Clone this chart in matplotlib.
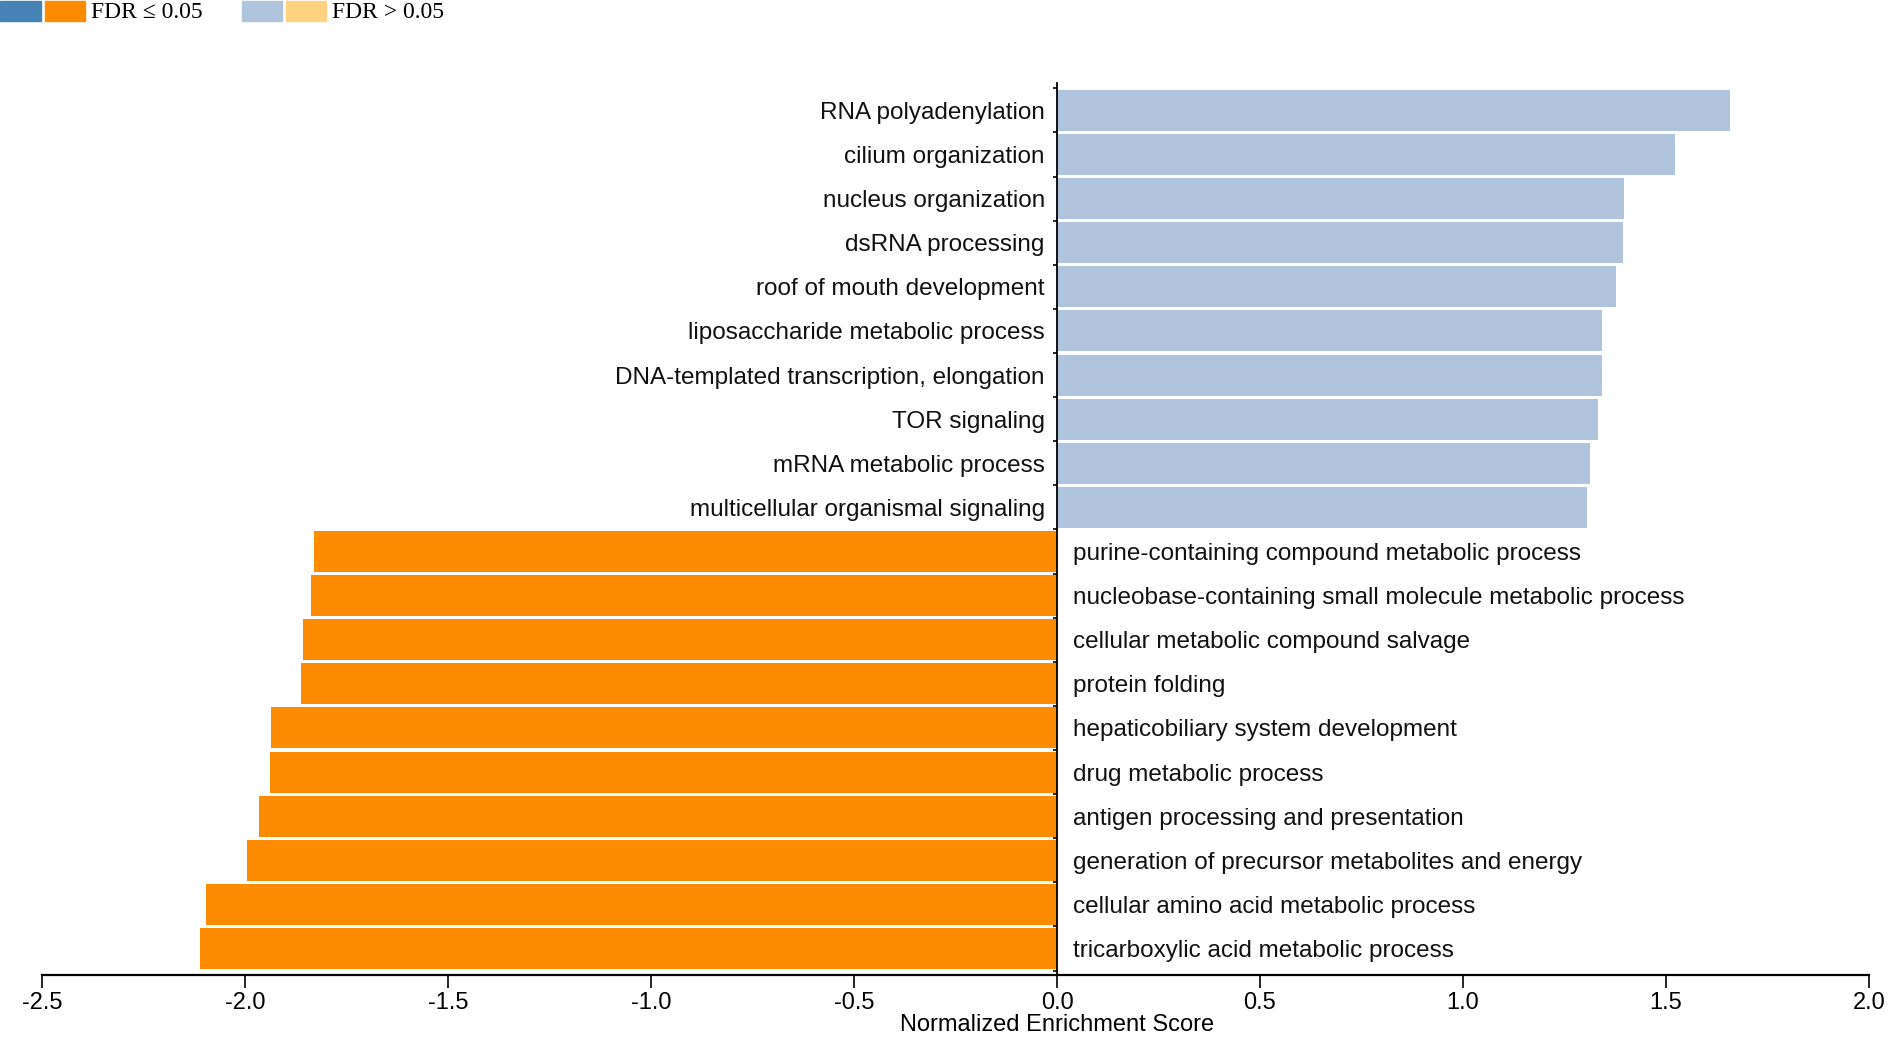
import numpy as np
import matplotlib
matplotlib.use('Agg')
import matplotlib.pyplot as plt
from matplotlib.patches import Rectangle

# GO terms, top to bottom
terms = ['RNA polyadenylation', 'cilium organization', 'nucleus organization',
         'dsRNA processing', 'roof of mouth development',
         'liposaccharide metabolic process',
         'DNA-templated transcription, elongation', 'TOR signaling',
         'mRNA metabolic process', 'multicellular organismal signaling',
         'purine-containing compound metabolic process',
         'nucleobase-containing small molecule metabolic process',
         'cellular metabolic compound salvage', 'protein folding',
         'hepaticobiliary system development', 'drug metabolic process',
         'antigen processing and presentation',
         'generation of precursor metabolites and energy',
         'cellular amino acid metabolic process',
         'tricarboxylic acid metabolic process']
nes = [1.658, 1.523, 1.396, 1.393, 1.378, 1.343, 1.343, 1.333, 1.312, 1.306,
       -1.830, -1.837, -1.856, -1.862, -1.936, -1.938, -1.966, -1.994,
       -2.097, -2.111]
fdr_sig = [False] * 10 + [True] * 10
xticks = [-2.5, -2.0, -1.5, -1.0, -0.5, 0.0, 0.5, 1.0, 1.5, 2.0]

col_pos_sig = '#4682B4'
col_neg_sig = '#FF8C00'
col_pos_ns = '#B0C4DE'
col_neg_ns = '#FFD280'

colors = []
for v, s in zip(nes, fdr_sig):
    if v >= 0:
        colors.append(col_pos_sig if s else col_pos_ns)
    else:
        colors.append(col_neg_sig if s else col_neg_ns)

W, H = 1890, 1038
fig = plt.figure(figsize=(W / 100, H / 100), dpi=100)
ax = fig.add_axes([42 / W, (H - 975) / H, (1869 - 42) / W, (975 - 83) / H])

y = np.arange(len(terms))
ax.barh(y, nes, height=0.93, color=colors, edgecolor='none', zorder=2)
ax.set_xlim(-2.5, 2.0)
ax.set_ylim(19.6, -0.62)

for yi, v, t in zip(y, nes, terms):
    if v >= 0:
        ax.text(-0.03, yi, t, ha='right', va='center_baseline', fontsize=17.5,
                family='Liberation Sans', color='#111111')
    else:
        ax.text(0.04, yi, t, ha='left', va='center_baseline', fontsize=17.5,
                family='Liberation Sans', color='#111111')

# zero line as y axis
ax.spines['left'].set_position(('data', 0))
ax.spines['left'].set_linewidth(1.3)
ax.spines['left'].set_zorder(3)
ax.spines['right'].set_visible(False)
ax.spines['top'].set_visible(False)
ax.spines['bottom'].set_linewidth(1.6)
ax.set_yticks(np.arange(-0.5, 19.6, 1.0))
ax.set_yticklabels([])
ax.tick_params(axis='y', length=3, width=1.2, direction='out')

ax.set_xticks(xticks)
ax.set_xticklabels(['%.1f' % t for t in xticks], fontsize=17,
                   family='Liberation Sans')
ax.tick_params(axis='x', length=9, width=1.2, pad=3)
ax.set_xlabel('Normalized Enrichment Score', fontsize=17,
              family='Liberation Sans', labelpad=0)
ax.xaxis.label.set_x((1057 - 42) / (1869 - 42))

# legend drawn by hand at top left
def leg_box(x0, x1, c):
    fig.patches.append(Rectangle((x0 / W, (H - 21) / H), (x1 - x0) / W, 20 / H,
                                 transform=fig.transFigure, color=c))

leg_box(0, 41, col_pos_sig)
leg_box(45, 85, col_neg_sig)
fig.text(91 / W, (H - 13) / H, 'FDR ≤ 0.05', fontsize=17,
         family=['Liberation Serif', 'DejaVu Serif'], va='center')
leg_box(242, 282, col_pos_ns)
leg_box(286, 326, col_neg_ns)
fig.text(332 / W, (H - 13) / H, 'FDR > 0.05', fontsize=17,
         family=['Liberation Serif', 'DejaVu Serif'], va='center')

fig.savefig('out.png', dpi=100)
